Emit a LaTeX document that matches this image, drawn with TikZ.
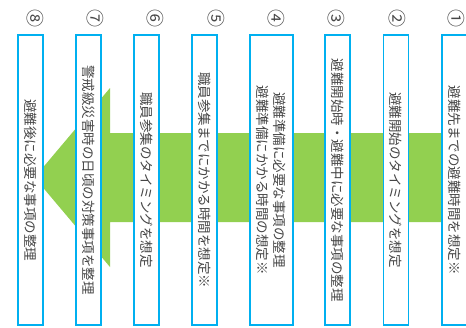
\documentclass[tikz,border=0pt]{standalone}
\usepackage{fontspec}
\setmainfont{Noto Sans CJK JP}
\usepackage{tikz}
\usetikzlibrary{positioning}
\definecolor{boxblue}{RGB}{0,176,240}
\definecolor{arrowgreen}{RGB}{146,208,80}
\definecolor{textgray}{RGB}{70,70,70}
\tikzset{
  stepbox/.style={draw=boxblue, line width=1.3pt, fill=white, rotate=-90,
    minimum width=290pt, minimum height=25pt, inner sep=0pt, align=center,
    font=\fontsize{13.5}{17}\selectfont, text=textgray},
  widebox/.style={stepbox, minimum height=43pt},
  numlabel/.style={rotate=-90, inner sep=0pt, font=\fontsize{18}{18}\selectfont, text=textgray}
}
\begin{document}
\begin{tikzpicture}[x=1pt,y=-1pt]
  \useasboundingbox (0,0) rectangle (466,327);

  %% Den store pila bak boksene
    \fill[arrowgreen] (445,133) -- (110,133) -- (110,88) -- (34.5,177.5)
      -- (110,267) -- (110,222) -- (445,222) -- cycle;

  %% Boksene
    \node[stepbox] (b8) at (30.5,180) {避難後に必要な事項の整理};
    \node[stepbox] (b7) at (88.5,180) {警戒級災害時の日頃の対策事項を整理};
    \node[stepbox] (b6) at (146.5,180) {職員参集のタイミングを想定};
    \node[stepbox] (b5) at (204.5,180) {職員参集までにかかる時間を想定※};
    \node[widebox] (b4) at (271.5,180) {避難準備に必要な事項の整理\\避難準備にかかる時間の想定※};
    \node[stepbox] (b3) at (337.5,180) {避難開始時・避難中に必要な事項の整理};
    \node[stepbox] (b2) at (396,180) {避難開始のタイミングを想定};
    \node[stepbox] (b1) at (454.5,180) {避難先までの避難時間を想定※};

  %% Nummerene over boksene
    \node[numlabel] (n8) at (35,18) {⑧};
    \node[numlabel] (n7) at (95,18) {⑦};
    \node[numlabel] (n6) at (155,18) {⑥};
    \node[numlabel] (n5) at (216,18) {⑤};
    \node[numlabel] (n4) at (276,18) {④};
    \node[numlabel] (n3) at (336,18) {③};
    \node[numlabel] (n2) at (397,18) {②};
    \node[numlabel] (n1) at (456,18) {①};
\end{tikzpicture}
\end{document}
